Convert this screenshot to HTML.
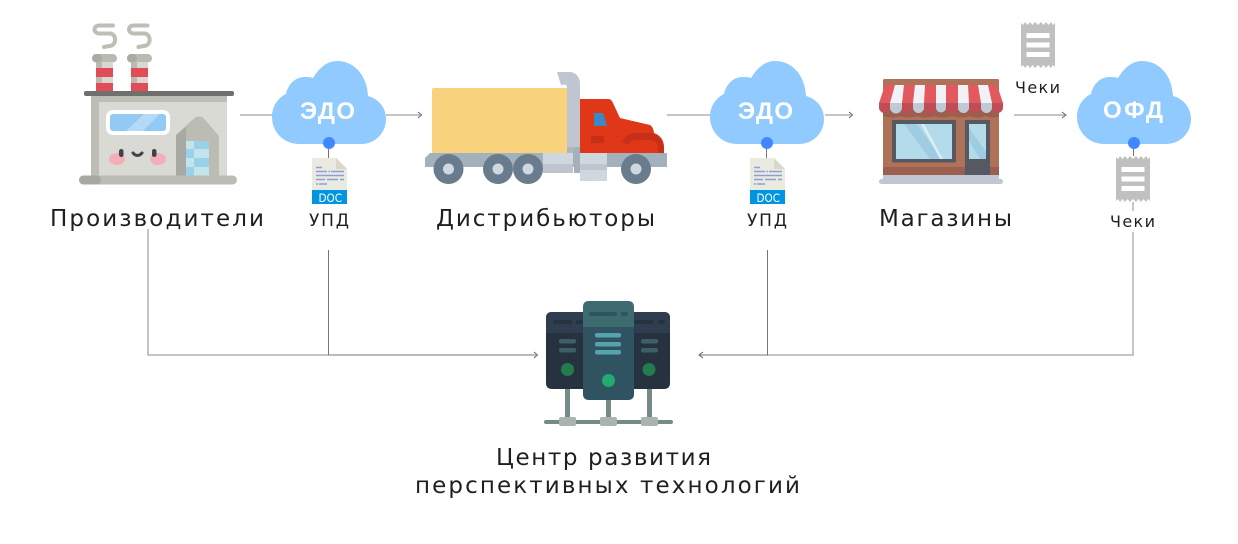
<!DOCTYPE html>
<html><head><meta charset="utf-8"><style>
html,body{margin:0;padding:0;background:#fff;width:1238px;height:544px;overflow:hidden}
svg{display:block}
.t{font-family:"DejaVu Sans","Liberation Sans",sans-serif;fill:#1f1f1f}
.c{font-family:"Liberation Sans",sans-serif;font-weight:bold;font-size:24px;fill:#fff}
.d{font-family:"DejaVu Sans",sans-serif;font-size:11.500px;fill:#fff}
.l{stroke:#b2b2b2;stroke-width:1.500;fill:none}
.k{stroke:#777;stroke-width:1;fill:none}
.a{stroke:#666;stroke-width:1;fill:none}
</style></head><body>
<svg width="1238" height="544" viewBox="0 0 1238 544" xmlns="http://www.w3.org/2000/svg">
<defs>
<g id="cloud">
<path fill="#90CAFE" d="M299 144C284 144 272 132 272 117C272 106 278 98 286 94C288 84 296 77 304 77C307 77 310 77 313 78C319 68 327 61 337 61C354 61 367 75 368 96C379 99 386 108 386 119C386 133 375 144 361 144Z"/>
</g>
<g id="doc">
<path fill="#EBEAE0" d="M312 158H336L347 169V190H312Z"/>
<path fill="#D8D7CA" d="M336 158L347 169H336Z"/>
<rect x="312" y="190" width="35" height="14" fill="#0095E0"/>
<g stroke="#8C9FD6" stroke-width="1.500" fill="none">
<path d="M316 167.500H322"/>
<path d="M316 171.500H327M328.500 171.500H330M331 171.500H344" stroke-width="1.500"/>
<path d="M316 175.500H344"/>
<path d="M316 179.500H325M327 179.500H338M340 179.500H344"/>
<path d="M316 184H318M319 184H327"/>
</g>
<text class="d" x="318.500" y="202" textLength="23.500" lengthAdjust="spacingAndGlyphs">DOC</text>
</g>
<g id="rec">
<path fill="#C1C0C0" d="M0 1L2 3L4 0L6.500 3L9 0L11.500 3L14 0L17 3L20 0L22.500 3L25 0L27.500 3L30 0L32 3L34 1V45L32 43L30 46L27.500 43L25 46L22.500 43L20 46L17 43L14 46L11.500 43L9 46L6.500 43L4 46L2 43L0 45Z"/>
<rect x="5.500" y="11" width="23" height="5" fill="#fff"/>
<rect x="5.500" y="20.500" width="23" height="5" fill="#fff"/>
<rect x="5.500" y="30" width="23" height="5" fill="#fff"/>
</g>
<path id="smoke" fill="none" stroke="#BEBEB6" stroke-width="4" stroke-linecap="round" d="M113 25.500H99C93 25.500 93 33 99 33.500H110C117 34 117 46 109 46L104 47"/>
</defs>

<!-- connectors -->
<path class="l" d="M240 115H272M386 115H420M667 115H710M825 115H851M1014 115H1065"/>
<path class="a" d="M418 112L421.500 115L418 118M849 112L852.500 115L849 118M1062 112L1066 115L1062 118"/>
<path class="l" d="M148 229V355H328M1133 232V355H767"/>
<path class="k" d="M328.500 250V355H536M767.500 250V355H700"/>
<path class="a" d="M534 352L537.500 355L534 358M703 352L699 355L703 358"/>
<path class="k" d="M328.500 144V158M766.500 144V158M1133.500 144V156"/>
<path class="l" d="M1133 202V211"/>

<!-- factory -->
<g>
<use href="#smoke"/><use href="#smoke" transform="translate(34.500 0)"/>
<rect x="92" y="54" width="25" height="8.500" rx="4.200" fill="#BABAB2"/><rect x="92" y="54" width="10" height="8.500" rx="4.200" fill="#ABABA4"/>
<rect x="127" y="54" width="25" height="8.500" rx="4.200" fill="#BABAB2"/><rect x="127" y="54" width="10" height="8.500" rx="4.200" fill="#ABABA4"/>
<rect x="96" y="62" width="17" height="29" fill="#D8D7D1"/><rect x="96" y="62" width="6" height="29" fill="#BABAB2"/>
<rect x="131" y="62" width="17" height="29" fill="#D8D7D1"/><rect x="131" y="62" width="6" height="29" fill="#BABAB2"/>
<rect x="96" y="68" width="17" height="9" fill="#E24C57"/><rect x="96" y="83" width="17" height="8" fill="#E24C57"/>
<rect x="131" y="68" width="17" height="9" fill="#E24C57"/><rect x="131" y="83" width="17" height="8" fill="#E24C57"/>
<rect x="91" y="95" width="136" height="81" fill="#DADAD4"/>
<rect x="91" y="95" width="136" height="7" fill="#BDBDB6"/>
<rect x="91" y="95" width="8" height="81" fill="#BDBDB6"/>
<rect x="84" y="91" width="150" height="5" rx="2" fill="#6F6F6B"/>
<rect x="106" y="110" width="64" height="25" rx="7" fill="#fff"/>
<rect x="110" y="114" width="56" height="17" rx="3" fill="#93C9F5"/>
<path fill="#B4DAF8" d="M126 131L144 114H160L143 131Z"/>
<path fill="#BCBCB5" d="M176 135L195 117.500Q199 115.500 203 117.500L219 136V176H176Z"/>
<path fill="#A9A9A3" d="M176 135L186 127V176H176Z"/>
<rect x="186" y="141" width="23" height="35" fill="#C4E4EC"/>
<g fill="#98D1E8"><rect x="194" y="141" width="15" height="8"/><rect x="186" y="149" width="8" height="9"/><rect x="194" y="158" width="15" height="9"/><rect x="186" y="167" width="8" height="9"/></g>
<rect x="79" y="175.500" width="158" height="9" rx="4.500" fill="#BCBCB5"/>
<rect x="79" y="175.500" width="22" height="9" rx="4.500" fill="#A8A8A2"/>
<ellipse cx="117" cy="159" rx="8" ry="6" fill="#F2AFB8"/><ellipse cx="158" cy="159" rx="8" ry="6" fill="#F2AFB8"/>
<rect x="119" y="149" width="4.500" height="8" rx="2.200" fill="#3F424A"/><rect x="152" y="149" width="4.500" height="8" rx="2.200" fill="#3F424A"/>
<path d="M133 153Q137.500 158 142 153" fill="none" stroke="#3F424A" stroke-width="3" stroke-linecap="round"/>
</g>

<!-- clouds -->
<use href="#cloud"/>
<use href="#cloud" transform="translate(438 0)"/>
<use href="#cloud" transform="translate(805 0)"/>
<circle cx="329" cy="143" r="6" fill="#4088FF"/>
<circle cx="767" cy="143" r="6" fill="#4088FF"/>
<circle cx="1134" cy="143" r="6" fill="#4088FF"/>
<text class="c" x="300" y="119" textLength="55" lengthAdjust="spacing">ЭДО</text>
<text class="c" x="738" y="119" textLength="55" lengthAdjust="spacing">ЭДО</text>
<text class="c" x="1103" y="118" textLength="60" lengthAdjust="spacing">ОФД</text>

<!-- docs -->
<use href="#doc"/>
<use href="#doc" transform="translate(438 0)"/>
<use href="#rec" transform="translate(1021 22)"/>
<use href="#rec" transform="translate(1116 156)"/>

<!-- truck -->
<g>
<path fill="#C0C6D0" d="M557 72H569C576 72 580 77 580 84V153H567V88C567 85 566 84 562 85L561 85Z"/>
<rect x="567" y="147" width="13" height="6" fill="#AEB6C0"/>
<path fill="#F9D27D" d="M434 88H567V153H432V90Q432 88 434 88Z"/>
<path fill="#E03719" d="M580 99H608C610 99 611 100 612 101L620 118L650 125C652 126 654 130 654 133C660 135 664 140 664 147V153H580Z"/>
<path fill="#3A88C6" d="M594 113H603L607 126H594Z"/>
<rect x="591" y="136" width="13" height="7" fill="#C63018"/>
<path fill="#C63018" d="M622 142C625 136 630 133 636 133H650C658 134 664 140 664 150V153H658V148C658 143 655 140 650 140H636C632 140 630 143 628 145Z"/>
<path fill="#A3B1BD" d="M430 153H667V167H425V158Z"/>
<rect x="543" y="153" width="30" height="20" fill="#CFD7DF"/>
<rect x="543" y="164" width="30" height="9" fill="#BFC4CE"/>
<rect x="580" y="153" width="27" height="28" fill="#CFD7DF"/>
<rect x="580" y="164" width="27" height="6" fill="#BFC4CE"/>
<rect x="574" y="147" width="6" height="26" fill="#A3B1BD"/>
<g fill="#697C8D"><circle cx="448.500" cy="169" r="15"/><circle cx="498" cy="169" r="15"/><circle cx="528" cy="169" r="15"/><circle cx="636" cy="169" r="15"/></g>
<g fill="#CFD7DF"><circle cx="448.500" cy="169" r="5.500"/><circle cx="498" cy="169" r="5.500"/><circle cx="528" cy="169" r="5.500"/><circle cx="636" cy="169" r="5.500"/></g>
</g>

<!-- store -->
<g>
<rect x="883" y="79" width="116" height="100" rx="1.500" fill="#AF7258"/>
<rect x="883" y="167" width="116" height="10" fill="#9C5F4F"/>
<rect x="879" y="179" width="124" height="5" rx="2.500" fill="#C0C6D2"/>
<rect x="883" y="175" width="116" height="5" fill="#C0C6D2"/>
<path fill="#9C5F4F" d="M883 110H999V116C995 118 991 118 986 116C981 118 975 118 970 116C965 118 958 118 952 116C946 118 939 118 934 116C929 118 922 118 917 116C912 118 905 118 900 116C895 118 888 118 883 116Z"/>
<path fill="#E2595F" d="M885 85H997L1003 103H879Z"/>
<path fill="#BF4D55" d="M879 103H1003V107.500A5.500 5.500 0 0 1 992 107.500A5.500 5.500 0 0 1 981 107.500A6 6 0 0 1 969 107.500A5.500 5.500 0 0 1 958 107.500A6 6 0 0 1 946 107.500A5.500 5.500 0 0 1 936 107.500A6 6 0 0 1 924 107.500A5.500 5.500 0 0 1 913 107.500A6 6 0 0 1 901 107.500A5.500 5.500 0 0 1 890 107.500A5.500 5.500 0 0 1 879 107.500Z"/>
<g fill="#F1F2F6"><path d="M895 85H904L902 103H890Z"/><path d="M915 85H925L924 103H913Z"/><path d="M936 85H946L946 103H936Z"/><path d="M958 85H968L969 103H958Z"/><path d="M978 85H988L992 103H981Z"/></g>
<g fill="#C0C9D6"><path d="M890 103H902V107.500A6 6 0 0 1 890 107.500Z"/><path d="M913 103H924V107.500A5.500 5.500 0 0 1 913 107.500Z"/><path d="M936 103H946V107.500A5 5 0 0 1 936 107.500Z"/><path d="M958 103H969V107.500A5.500 5.500 0 0 1 958 107.500Z"/><path d="M981 103H992V107.500A5.500 5.500 0 0 1 981 107.500Z"/></g>
<rect x="892" y="120" width="64" height="42.500" rx="1.500" fill="#565961"/>
<rect x="896" y="124" width="56" height="35" fill="#B3DBEA"/>
<path fill="#9FCBE3" d="M904 124H917L942 159H930Z"/><path fill="#D9EEF5" d="M921 124H924L943 159H940Z"/>
<path fill="#565961" d="M965 120H990V175H965Z"/>
<rect x="969" y="124" width="17" height="35" fill="#B3DBEA"/>
<path fill="#9FCBE3" d="M969 128L986 152V159H980L969 141Z"/>
</g>

<!-- server -->
<g>
<path fill="#26323F" d="M546 318Q546 312 552 312H664Q670 312 670 318V383Q670 389 664 389H552Q546 389 546 383Z"/>
<path fill="#2E3E50" d="M546 318Q546 312 552 312H664Q670 312 670 318V333H546Z"/>
<g fill="#26323F"><rect x="553" y="320" width="19" height="4" rx="2"/><rect x="576" y="320" width="7" height="4" rx="2"/><rect x="634" y="320" width="19" height="4" rx="2"/><rect x="658" y="320" width="7" height="4" rx="2"/></g>
<g fill="#3E5F67"><rect x="559" y="339" width="17" height="4.500" rx="2"/><rect x="559" y="348" width="17" height="4.500" rx="2"/><rect x="641" y="339" width="17" height="4.500" rx="2"/><rect x="641" y="348" width="17" height="4.500" rx="2"/></g>
<circle cx="567.500" cy="369.500" r="6.500" fill="#247B4D"/><circle cx="649" cy="369.500" r="6.500" fill="#247B4D"/>
<g fill="#758B89"><rect x="565" y="389" width="5" height="31"/><rect x="606" y="399" width="5" height="21"/><rect x="647" y="389" width="5" height="31"/><rect x="544" y="420" width="129" height="4" rx="2"/></g>
<g fill="#ABB3B0"><rect x="559" y="417" width="17" height="9" rx="2"/><rect x="600" y="417" width="17" height="9" rx="2"/><rect x="641" y="417" width="17" height="9" rx="2"/></g>
<path fill="#2F5360" d="M583 327H634V394Q634 400 628 400H589Q583 400 583 394Z"/>
<path fill="#3D6B70" d="M583 307Q583 301 589 301H628Q634 301 634 307V327H583Z"/>
<g fill="#2F5360"><rect x="589" y="312" width="28" height="4" rx="2"/><rect x="621" y="312" width="7" height="4" rx="2"/></g>
<g fill="#56A3B0"><rect x="595" y="333" width="26" height="4.500" rx="2"/><rect x="595" y="342" width="26" height="4.500" rx="2"/><rect x="595" y="350" width="26" height="4.500" rx="2"/></g>
<circle cx="608.500" cy="380.500" r="6.500" fill="#22AB72"/>
</g>

<!-- labels -->
<g>
<text x="50" y="226" font-size="23" textLength="214" lengthAdjust="spacing" class="t">Производители</text>
<text x="436" y="226" font-size="23" textLength="219" lengthAdjust="spacing" class="t">Дистрибьюторы</text>
<text x="879" y="226" font-size="23" textLength="133" lengthAdjust="spacing" class="t">Магазины</text>
<text x="309" y="226" font-size="17" textLength="40" lengthAdjust="spacing" class="t">УПД</text>
<text x="747" y="226" font-size="17" textLength="40" lengthAdjust="spacing" class="t">УПД</text>
<text x="1015" y="93" font-size="16" textLength="45" lengthAdjust="spacing" class="t">Чеки</text>
<text x="1110" y="227" font-size="16" textLength="45" lengthAdjust="spacing" class="t">Чеки</text>
<text x="496" y="465" font-size="23" textLength="215" lengthAdjust="spacing" class="t">Центр развития</text>
<text x="415" y="493" font-size="23" textLength="385" lengthAdjust="spacing" class="t">перспективных технологий</text>
</g>
</svg>
</body></html>
